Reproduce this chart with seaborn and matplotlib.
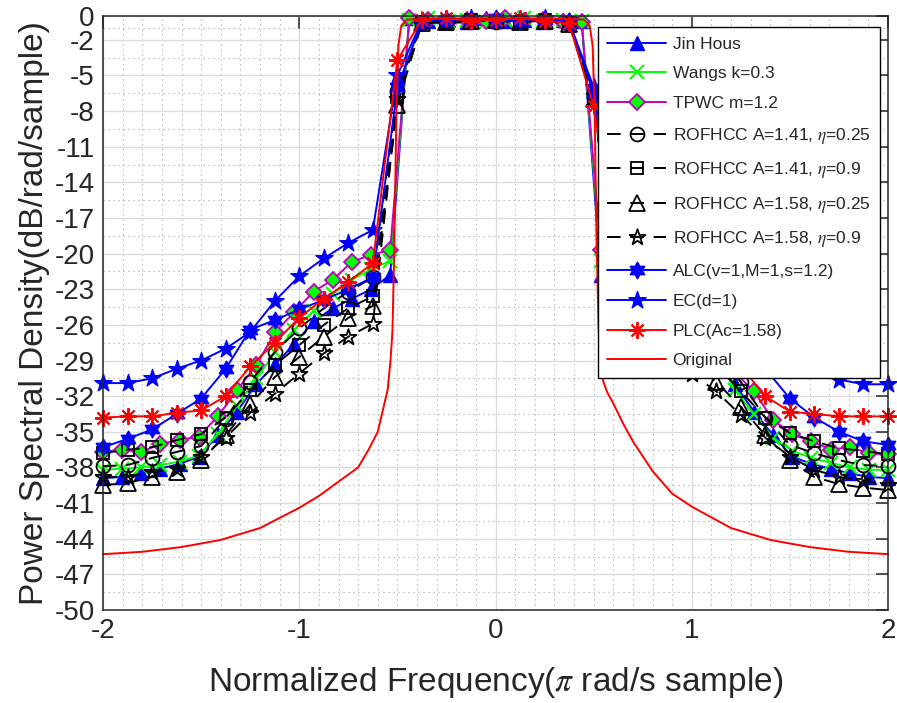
import numpy as np
import pandas as pd
import matplotlib
matplotlib.use("Agg")
import matplotlib.pyplot as plt
import seaborn as sns
from matplotlib.path import Path
from matplotlib.ticker import FixedLocator

# ---------------- data ----------------
# frequency grids (normalized, pi rad/sample)
x_a = np.linspace(-2, 2, 33)   # grid used by ROFHCC, ALC, EC, PLC
x_b = np.linspace(-2, 2, 42)   # grid used by Jin Hous, Wangs, TPWC

psd_plc = [-33.8, -33.7, -33.7, -33.4, -33.2, -32.0, -29.5, -27.5, -25.4, -23.8, -22.4, -20.8,
           -3.7, -0.3, -0.2, -0.4, -0.3, -0.2, -0.4, -0.6, -7.6,
           -20.8, -22.4, -23.8, -25.4, -27.5, -29.5, -32.0, -33.3, -33.5, -33.7, -33.7, -33.7]
psd_ec = [-30.9, -30.9, -30.5, -29.7, -29.0, -28.0, -26.6, -24.0, -21.9, -20.4, -19.1, -18.0,
          -5.0, -0.4, -0.3, -0.2, -0.4, -0.3, -0.2, -0.5, -6.0,
          -18.0, -19.1, -20.4, -21.9, -24.0, -26.6, -28.0, -29.0, -29.8, -30.6, -31.0, -31.0]
psd_alc = [-36.3, -35.6, -34.8, -33.5, -32.2, -29.7, -26.4, -25.6, -24.7, -23.9, -23.0, -22.0,
           -6.0, -0.5, -0.3, -0.4, -0.2, -0.4, -0.3, -0.4, -6.5,
           -22.0, -23.0, -23.9, -24.7, -25.6, -26.4, -29.7, -32.2, -33.8, -35.0, -35.8, -36.1]
psd_r141_025 = [-37.9, -37.8, -37.2, -36.7, -36.2, -33.9, -30.8, -28.3, -26.3, -24.6, -23.2, -22.0,
                -6.3, -0.6, -0.4, -0.3, -0.5, -0.4, -0.3, -0.7, -6.8,
                -22.0, -23.2, -24.6, -26.3, -28.3, -30.8, -33.8, -36.1, -36.8, -37.4, -37.8, -37.9]
psd_r141_09 = [-36.8, -36.5, -36.3, -35.7, -35.2, -33.8, -31.5, -29.4, -27.7, -26.0, -24.6, -23.6,
               -6.8, -0.5, -0.6, -0.3, -0.4, -0.5, -0.3, -0.6, -6.9,
               -23.6, -24.6, -26.0, -27.7, -29.4, -31.6, -33.8, -35.1, -35.8, -36.4, -36.6, -36.9]
psd_r158_025 = [-39.5, -39.3, -38.8, -38.4, -37.4, -35.3, -32.7, -30.4, -28.7, -27.0, -25.4, -24.4,
                -7.5, -0.6, -0.5, -0.4, -0.3, -0.5, -0.4, -0.7, -7.0,
                -24.4, -25.4, -27.0, -28.7, -30.8, -32.9, -35.3, -37.4, -38.8, -39.4, -39.7, -39.9]
psd_r158_09 = [-38.8, -38.8, -38.4, -38.1, -37.1, -35.5, -33.4, -31.8, -30.1, -28.4, -27.0, -25.9,
               -7.0, -0.4, -0.6, -0.5, -0.3, -0.4, -0.5, -0.5, -6.7,
               -25.9, -27.0, -28.4, -30.1, -31.6, -33.6, -35.5, -37.1, -38.2, -38.8, -39.1, -39.5]

psd_jin = [-38.9, -38.8, -38.5, -38.1, -37.7, -37.1, -35.3, -33.3, -31.0, -29.3, -27.6, -25.7, -24.6, -23.8, -23.0, -21.8,
           -0.2, -0.4, -0.3, -0.5, -0.2, -0.4, -0.3, -0.5, -0.3, -0.4,
           -21.8, -23.0, -23.8, -24.6, -25.7, -27.6, -29.3, -31.0, -33.3, -35.3, -37.1, -37.7, -38.1, -38.5, -38.8, -38.9]
psd_wang = [-38.2, -38.1, -38.0, -37.8, -37.5, -37.0, -35.2, -32.8, -30.5, -28.3, -26.4, -24.8, -23.4, -22.2, -21.3, -20.6,
            -0.3, -0.2, -0.4, -0.3, -0.5, -0.3, -0.2, -0.4, -0.3, -0.4,
            -20.6, -21.3, -22.2, -23.4, -24.8, -26.4, -28.3, -31.5, -33.5, -35.5, -36.6, -37.2, -37.6, -38.0, -38.2, -38.2]
psd_tpwc = [-36.7, -36.5, -36.7, -36.0, -35.7, -35.4, -33.7, -31.5, -29.4, -26.6, -24.9, -23.2, -22.2, -20.7, -20.1, -19.7,
            -0.2, -0.3, -0.5, -0.3, -0.4, -0.2, -0.4, -0.3, -0.5, -0.5,
            -19.7, -20.1, -20.7, -22.2, -23.2, -24.9, -26.8, -30.0, -31.6, -34.0, -35.2, -35.8, -36.5, -36.3, -36.8, -36.9]

x_orig = [-2.0, -1.8, -1.6, -1.4, -1.2, -1.0, -0.9, -0.8, -0.7, -0.65, -0.6, -0.57, -0.55, -0.535, -0.525,
          -0.515, -0.505, -0.495, -0.48, -0.45, -0.3, 0.0, 0.3, 0.45, 0.48, 0.495, 0.505, 0.515, 0.525,
          0.535, 0.55, 0.57, 0.6, 0.65, 0.7, 0.8, 0.9, 1.0, 1.2, 1.4, 1.6, 1.8, 2.0]
psd_orig = [-45.3, -45.1, -44.7, -44.1, -43.1, -41.4, -40.4, -39.2, -38.0, -36.6, -35.0, -32.9, -31.5, -29.0, -26.5,
            -19.0, -8.0, -2.5, -0.8, -0.3, -0.2, -0.2, -0.2, -0.3, -0.8, -2.5, -8.0, -19.0, -26.0,
            -29.5, -30.8, -31.7, -32.6, -34.3, -35.8, -38.3, -40.2, -41.3, -43.1, -44.1, -44.7, -45.1, -45.3]

y_ticks = [0, -2, -5, -8, -11, -14, -17, -20, -23, -26, -29, -32, -35, -38, -41, -44, -47, -50]
x_ticks = [-2, -1, 0, 1, 2]


# ---------------- style ----------------
sns.set_style("white")
plt.rcParams["font.family"] = ["Liberation Sans", "DejaVu Sans"]
plt.rcParams["mathtext.fontset"] = "stix"


def star_marker(n, inner):
    ang = np.arange(2 * n) * np.pi / n + np.pi / 2
    r = np.where(np.arange(2 * n) % 2 == 0, 1.0, inner)
    v = np.column_stack([r * np.cos(ang), r * np.sin(ang)])
    return Path(np.vstack([v, v[:1]]), closed=True)


pentagram = star_marker(5, 0.382)
hexagram = star_marker(6, 0.577)
asterisk = (8, 2, 0)

BLUE = (0, 0, 1)
GREEN = (0, 1, 0)
MAG = (0.75, 0, 0.75)
RED = (1, 0, 0)
DASH = (0, (7, 5))

fig = plt.figure(figsize=(8.97, 7.03), dpi=100)
ax = fig.add_axes([103 / 897, 1 - 610 / 703, 785 / 897, 594 / 703])

series = [
    (x_b, psd_jin, "Jin Hous", dict(color=BLUE, marker="^", markersize=10, markerfacecolor=BLUE,
                                    markeredgecolor=BLUE, markeredgewidth=1.0, linestyle="-")),
    (x_b, psd_wang, "Wangs k=0.3", dict(color=GREEN, marker="x", markersize=10, markerfacecolor=GREEN,
                                        markeredgecolor=GREEN, markeredgewidth=1.5, linestyle="-")),
    (x_b, psd_tpwc, "TPWC m=1.2", dict(color=MAG, marker="D", markersize=8, markerfacecolor=GREEN,
                                       markeredgecolor=MAG, markeredgewidth=1.3, linestyle="-")),
    (x_a, psd_r141_025, r"ROFHCC A=1.41, $\eta$=0.25", dict(color="k", marker="o", markersize=10,
                                                         markerfacecolor="none", markeredgecolor="k",
                                                         markeredgewidth=1.3, linestyle=DASH)),
    (x_a, psd_r141_09, r"ROFHCC A=1.41, $\eta$=0.9", dict(color="k", marker="s", markersize=9,
                                                       markerfacecolor="none", markeredgecolor="k",
                                                       markeredgewidth=1.3, linestyle=DASH)),
    (x_a, psd_r158_025, r"ROFHCC A=1.58, $\eta$=0.25", dict(color="k", marker="^", markersize=11,
                                                         markerfacecolor="none", markeredgecolor="k",
                                                         markeredgewidth=1.3, linestyle=DASH)),
    (x_a, psd_r158_09, r"ROFHCC A=1.58, $\eta$=0.9", dict(color="k", marker=pentagram, markersize=12,
                                                       markerfacecolor="none", markeredgecolor="k",
                                                       markeredgewidth=1.3, linestyle=DASH)),
    (x_a, psd_alc, "ALC(v=1,M=1,s=1.2)", dict(color=BLUE, marker=hexagram, markersize=12, markerfacecolor=BLUE,
                                              markeredgecolor=BLUE, markeredgewidth=1.0, linestyle="-")),
    (x_a, psd_ec, "EC(d=1)", dict(color=BLUE, marker=pentagram, markersize=13, markerfacecolor=BLUE,
                                  markeredgecolor=BLUE, markeredgewidth=1.0, linestyle="-")),
    (x_a, psd_plc, "PLC(Ac=1.58)", dict(color=RED, marker=asterisk, markersize=12, markerfacecolor=RED,
                                        markeredgecolor=RED, markeredgewidth=1.4, linestyle="-")),
    (x_orig, psd_orig, "Original", dict(color=RED, linestyle="-")),
]

for xs, ys, name, kw in series:
    df = pd.DataFrame({"freq": xs, "psd": ys})
    sns.lineplot(data=df, x="freq", y="psd", ax=ax, estimator=None, sort=False,
                 label=name, linewidth=1.4, clip_on=False, **kw)

ax.set_xlim(-2, 2)
ax.set_ylim(-50, 0)
ax.xaxis.set_major_locator(FixedLocator(x_ticks))
ax.yaxis.set_major_locator(FixedLocator(y_ticks))
ax.xaxis.set_minor_locator(FixedLocator(np.round(np.arange(-2, 2.001, 0.1), 2)))
ax.yaxis.set_minor_locator(FixedLocator([(a + b) / 2 for a, b in zip(y_ticks[:-1], y_ticks[1:])]))
ax.set_yticklabels([str(t) for t in y_ticks])
ax.set_xticklabels([str(t) for t in x_ticks])

ax.grid(which="major", color="#dcdcdc", linewidth=1.0, linestyle="-")
ax.grid(which="minor", color="#a0a0a0", linewidth=0.8, linestyle=(0, (1, 3.5)))
ax.set_axisbelow(True)

for sp in ax.spines.values():
    sp.set_color("#262626")
    sp.set_linewidth(1.1)
    sp.set_visible(True)
ax.tick_params(which="major", direction="in", length=9, width=1.1, top=True, right=True,
               labelsize=20, colors="#262626", pad=6)
ax.tick_params(which="minor", length=0)

ax.set_xlabel(r"Normalized Frequency($\pi$ rad/s sample)", fontsize=24, color="#262626")
ax.set_ylabel("Power Spectral Density(dB/rad/sample)", fontsize=24, color="#262626")
ax.xaxis.set_label_coords(0.5, -0.092)
ax.yaxis.set_label_coords(-0.068, 0.5)

leg = ax.legend(loc="upper right", bbox_to_anchor=(0.9898, 0.9815), borderaxespad=0,
                frameon=True, fancybox=False, edgecolor="black", framealpha=1,
                fontsize=12.5, handlelength=3.4, handletextpad=0.35, labelspacing=0.84,
                borderpad=0.55)
leg.get_frame().set_linewidth(1.0)
leg.set_zorder(10)

fig.savefig("out.png", dpi=100)
